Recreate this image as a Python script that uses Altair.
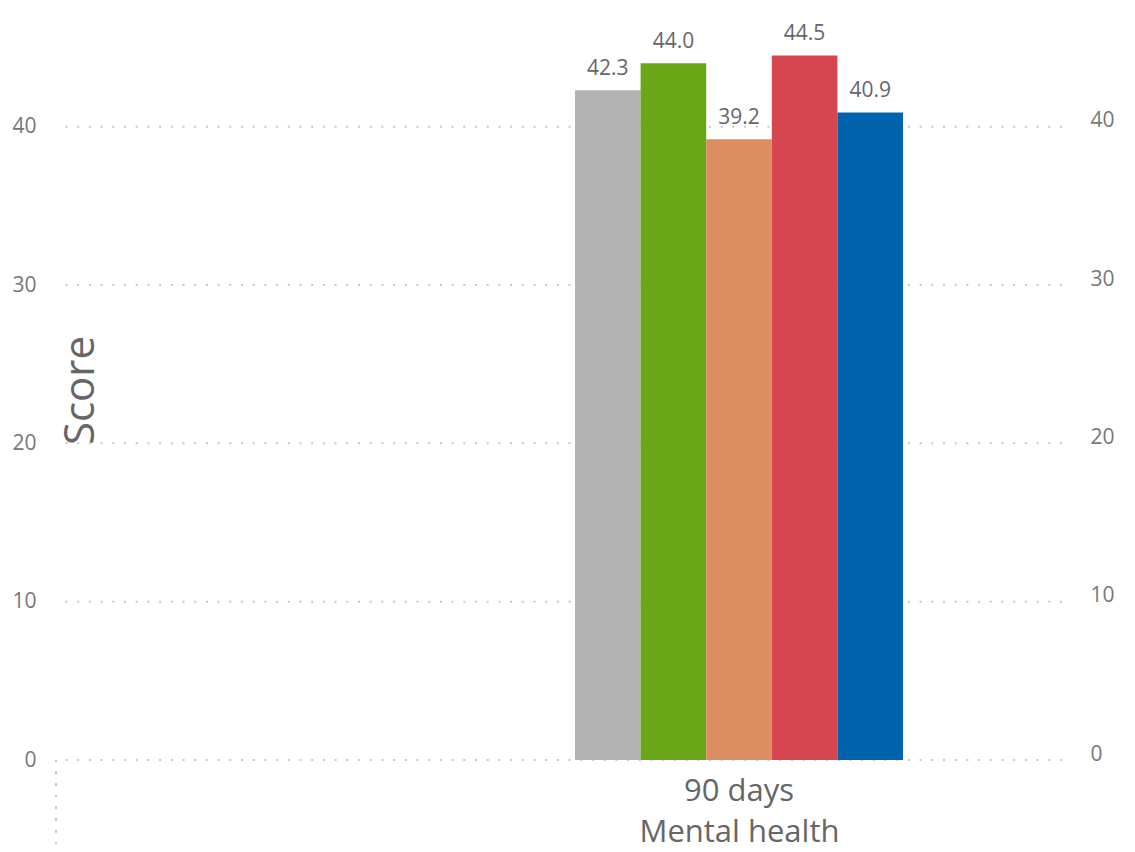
import altair as alt
import pandas as pd

categories = ["90 days"]
series = ["Series 1", "Series 2", "Series 3", "Series 4", "Series 5"]
values = [42.3, 44.0, 39.2, 44.5, 40.9]
colors = ["#B3B3B3", "#6AA718", "#DC8D62", "#D64550", "#0063AE"]
y_ticks = [0, 10, 20, 30, 40]

df = pd.DataFrame({
    "period": categories * len(series),
    "series": series,
    "score": values,
})
ticks_df = pd.DataFrame({"tick": y_ticks})

W, H = 1006, 760
FONT = "Open Sans"
GRID = "#c6c6c6"

x_enc = alt.X(
    "period:N",
    scale=alt.Scale(domain=categories, range=[519, 847], paddingInner=0, paddingOuter=0),
    axis=alt.Axis(
        title="Mental health", labelAngle=0, labelFontSize=31, labelColor="#666666",
        labelPadding=16, labelFont=FONT, titleFont=FONT, titleFontSize=31,
        titleFontWeight="normal", titleColor="#666666", titlePadding=11,
        domain=False, ticks=False, grid=False,
    ),
)
xoff = alt.XOffset("series:N", scale=alt.Scale(domain=series, paddingInner=0, paddingOuter=0))
y_scale = alt.Scale(domain=[0, 48], nice=False)

grid = alt.Chart(ticks_df).mark_rule(
    color=GRID, strokeDash=[2, 9.7], strokeWidth=2
).encode(
    y=alt.Y(
        "tick:Q", scale=y_scale,
        axis=alt.Axis(
            orient="left", values=y_ticks, title="Score", titleFont=FONT, titleFontSize=42,
            titleFontWeight="normal", titleColor="#666666", titleAngle=270,
            titleX=24, titleY=390, titleAlign="center", titleBaseline="middle",
            labelFont=FONT, labelFontSize=21, labelColor="#777777", labelPadding=20,
            domain=False, ticks=False, grid=False,
        ),
    ),
)

bars = alt.Chart(df).mark_bar().encode(
    x=x_enc,
    xOffset=xoff,
    y=alt.Y("score:Q", scale=y_scale, axis=None),
    color=alt.Color("series:N", scale=alt.Scale(domain=series, range=colors), legend=None),
)

labels = alt.Chart(df).mark_text(
    dy=-15, fontSize=21, color="#666666", font=FONT, baseline="alphabetic"
).encode(
    x=x_enc,
    xOffset=xoff,
    y=alt.Y(
        "score:Q", scale=y_scale,
        axis=alt.Axis(
            orient="right", values=y_ticks, title=None, labelFont=FONT, labelFontSize=21,
            labelColor="#777777", labelPadding=28, labelOffset=-6,
            domain=False, ticks=False, grid=False,
        ),
    ),
    text=alt.Text("score:Q", format=".1f"),
)

vline = alt.Chart(ticks_df).mark_rule(
    color=GRID, strokeDash=[2, 9.7], strokeWidth=2
).encode(x=alt.value(0), y=alt.value(H), y2=alt.value(H + 92))

chart = alt.layer(grid, bars, labels, vline).resolve_axis(y="independent").properties(
    width=W, height=H,
    autosize=alt.AutoSizeParams(type="none"),
    padding={"left": 56, "top": 0, "right": 73, "bottom": 92},
    background="white",
).configure_view(strokeWidth=0, stroke=None)

chart.save("out.html", embed_options={"renderer": "svg", "actions": False})
